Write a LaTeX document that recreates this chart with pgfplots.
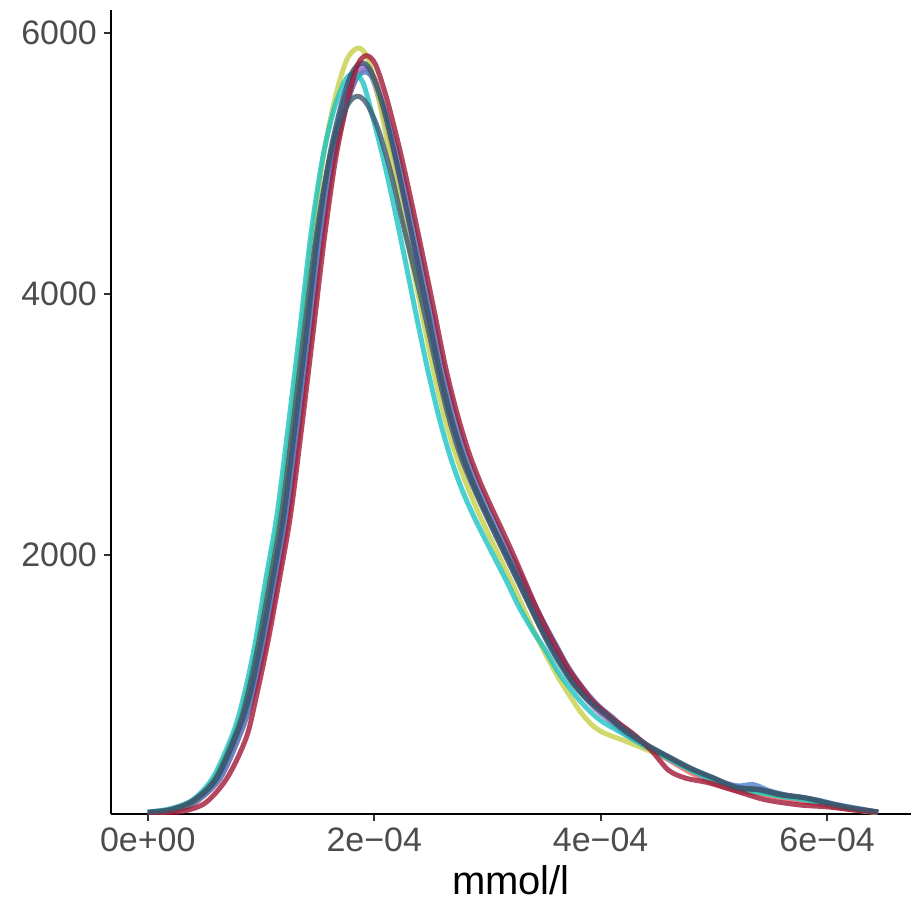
\documentclass[border=0pt]{standalone}
\usepackage{pgfplots}
\pgfplotsset{compat=1.18}
\usepackage{fontspec}
\setmainfont{Liberation Sans}
\definecolor{cYellow}{RGB}{198,208,72}
\definecolor{cCrimson}{RGB}{160,25,55}
\definecolor{cDark}{RGB}{50,80,105}
\definecolor{cSlate}{RGB}{60,90,112}
\definecolor{cCyan}{RGB}{28,195,195}
\definecolor{cBlue}{RGB}{80,130,200}
\definecolor{cViolet}{RGB}{140,125,240}
\definecolor{cSalmon}{RGB}{245,95,95}
\begin{document}
\begin{tikzpicture}
\begin{axis}[
 width=400.5pt, height=402.5pt, scale only axis,
 xmin=-3.26e-5, xmax=6.74e-4, ymin=15, ymax=6176,
 axis x line*=bottom, axis y line*=left,
 axis line style={line width=1.1pt, black},
 xtick={0,2e-4,4e-4,6e-4}, xticklabels={0e+00,2e−04,4e−04,6e−04},
 ytick={2000,4000,6000}, yticklabels={2000,4000,6000},
 scaled x ticks=false, scaled y ticks=false,
 tick align=outside, major tick length=3.5pt,
 tick style={line width=0.9pt, color=black!80},
 ticklabel style={font=\fontsize{17}{17}\selectfont, text=black!70},
 /pgf/number format/assume math mode=true,
 xlabel={mmol/l}, xlabel style={font=\fontsize{20}{20}\selectfont, text=black},
 every axis plot/.append style={line width=2.5pt, opacity=0.8, smooth, no markers, line join=round},
]
% salmon
\addplot[color=cSalmon] coordinates {(0,20)(0.2e-4,35)(0.4e-4,90)(0.64e-4,290)(0.84e-4,680)(0.94e-4,960)(1.04e-4,1330)(1.14e-4,1800)(1.24e-4,2300)(1.34e-4,2980)(1.44e-4,3700)(1.54e-4,4440)(1.64e-4,5020)(1.74e-4,5400)(1.84e-4,5650)(1.92e-4,5720)(2.00e-4,5660)(2.09e-4,5420)(2.18e-4,5090)(2.28e-4,4700)(2.38e-4,4290)(2.48e-4,3870)(2.58e-4,3440)(2.68e-4,3080)(2.78e-4,2790)(2.88e-4,2550)(2.98e-4,2350)(3.08e-4,2170)(3.18e-4,1990)(3.28e-4,1810)(3.38e-4,1620)(3.48e-4,1440)(3.58e-4,1280)(3.68e-4,1130)(3.78e-4,1000)(3.88e-4,890)(3.98e-4,800)(4.08e-4,730)(4.2e-4,640)(4.4e-4,530)(4.6e-4,430)(4.8e-4,330)(5.0e-4,250)(5.2e-4,195)(5.4e-4,170)(5.6e-4,140)(5.8e-4,110)(6.0e-4,80)(6.2e-4,50)(6.45e-4,25)};
% violet
\addplot[color=cViolet] coordinates {(0,25)(0.2e-4,40)(0.4e-4,100)(0.62e-4,290)(0.82e-4,680)(0.92e-4,960)(1.01e-4,1330)(1.11e-4,1800)(1.21e-4,2300)(1.31e-4,2980)(1.41e-4,3700)(1.51e-4,4440)(1.61e-4,5020)(1.71e-4,5410)(1.81e-4,5670)(1.89e-4,5740)(1.97e-4,5680)(2.06e-4,5440)(2.16e-4,5100)(2.26e-4,4710)(2.36e-4,4300)(2.46e-4,3880)(2.56e-4,3450)(2.66e-4,3090)(2.76e-4,2800)(2.86e-4,2560)(2.96e-4,2365)(3.06e-4,2180)(3.16e-4,2000)(3.26e-4,1820)(3.36e-4,1640)(3.46e-4,1460)(3.56e-4,1300)(3.66e-4,1150)(3.76e-4,1020)(3.86e-4,910)(3.96e-4,820)(4.06e-4,750)(4.2e-4,650)(4.4e-4,540)(4.6e-4,440)(4.8e-4,350)(5.0e-4,280)(5.2e-4,230)(5.4e-4,185)(5.6e-4,150)(5.8e-4,130)(6.0e-4,95)(6.2e-4,60)(6.45e-4,30)};
% blue
\addplot[color=cBlue] coordinates {(0,25)(0.2e-4,40)(0.4e-4,95)(0.64e-4,290)(0.84e-4,680)(0.94e-4,960)(1.03e-4,1330)(1.13e-4,1800)(1.23e-4,2300)(1.33e-4,2980)(1.43e-4,3700)(1.53e-4,4430)(1.63e-4,5000)(1.73e-4,5380)(1.83e-4,5630)(1.91e-4,5700)(1.99e-4,5650)(2.09e-4,5420)(2.20e-4,5100)(2.30e-4,4720)(2.40e-4,4310)(2.50e-4,3890)(2.60e-4,3470)(2.70e-4,3110)(2.80e-4,2810)(2.90e-4,2570)(3.00e-4,2375)(3.10e-4,2190)(3.20e-4,2010)(3.30e-4,1830)(3.40e-4,1650)(3.50e-4,1480)(3.60e-4,1320)(3.70e-4,1160)(3.80e-4,1030)(3.90e-4,920)(4.00e-4,830)(4.10e-4,760)(4.2e-4,680)(4.4e-4,550)(4.6e-4,440)(4.8e-4,350)(5.0e-4,270)(5.2e-4,230)(5.35e-4,240)(5.5e-4,190)(5.7e-4,150)(5.9e-4,125)(6.1e-4,85)(6.45e-4,30)};
% yellow
\addplot[color=cYellow] coordinates {(0,25)(0.2e-4,45)(0.4e-4,110)(0.59e-4,290)(0.79e-4,680)(0.88e-4,960)(0.97e-4,1330)(1.06e-4,1800)(1.16e-4,2300)(1.26e-4,2980)(1.36e-4,3720)(1.46e-4,4480)(1.56e-4,5100)(1.66e-4,5520)(1.76e-4,5800)(1.86e-4,5885)(1.94e-4,5810)(2.03e-4,5540)(2.12e-4,5150)(2.22e-4,4720)(2.32e-4,4290)(2.42e-4,3860)(2.52e-4,3430)(2.62e-4,3060)(2.72e-4,2770)(2.82e-4,2530)(2.92e-4,2325)(3.02e-4,2140)(3.12e-4,1960)(3.22e-4,1780)(3.32e-4,1590)(3.42e-4,1400)(3.52e-4,1230)(3.62e-4,1070)(3.72e-4,930)(3.82e-4,800)(3.92e-4,700)(4.02e-4,640)(4.2e-4,580)(4.4e-4,510)(4.6e-4,440)(4.8e-4,350)(5.0e-4,280)(5.2e-4,210)(5.4e-4,180)(5.6e-4,150)(5.8e-4,130)(6.0e-4,95)(6.2e-4,55)(6.45e-4,25)};
% cyan
\addplot[color=cCyan] coordinates {(0,30)(0.2e-4,55)(0.4e-4,125)(0.58e-4,300)(0.76e-4,650)(0.86e-4,960)(0.95e-4,1330)(1.04e-4,1800)(1.14e-4,2300)(1.24e-4,2980)(1.34e-4,3700)(1.44e-4,4450)(1.54e-4,5020)(1.64e-4,5400)(1.74e-4,5630)(1.82e-4,5690)(1.90e-4,5620)(1.98e-4,5380)(2.08e-4,5040)(2.18e-4,4650)(2.28e-4,4230)(2.38e-4,3800)(2.48e-4,3390)(2.58e-4,3030)(2.68e-4,2730)(2.78e-4,2490)(2.88e-4,2295)(2.98e-4,2120)(3.08e-4,1950)(3.18e-4,1780)(3.28e-4,1600)(3.40e-4,1420)(3.52e-4,1260)(3.62e-4,1110)(3.72e-4,990)(3.82e-4,880)(3.92e-4,790)(4.02e-4,720)(4.2e-4,630)(4.4e-4,530)(4.6e-4,440)(4.8e-4,350)(5.0e-4,275)(5.2e-4,210)(5.4e-4,180)(5.6e-4,150)(5.8e-4,125)(6.0e-4,90)(6.2e-4,60)(6.45e-4,30)};
% dark
\addplot[color=cDark] coordinates {(0,25)(0.2e-4,45)(0.4e-4,110)(0.61e-4,290)(0.81e-4,680)(0.91e-4,960)(1.0e-4,1330)(1.1e-4,1800)(1.2e-4,2300)(1.3e-4,2980)(1.4e-4,3700)(1.5e-4,4450)(1.6e-4,5030)(1.7e-4,5420)(1.8e-4,5690)(1.89e-4,5770)(1.97e-4,5710)(2.07e-4,5460)(2.17e-4,5110)(2.27e-4,4710)(2.37e-4,4290)(2.47e-4,3870)(2.57e-4,3440)(2.67e-4,3080)(2.77e-4,2790)(2.87e-4,2560)(2.97e-4,2365)(3.07e-4,2180)(3.17e-4,2000)(3.27e-4,1820)(3.37e-4,1630)(3.47e-4,1450)(3.57e-4,1290)(3.67e-4,1140)(3.77e-4,1010)(3.87e-4,910)(3.97e-4,830)(4.07e-4,760)(4.2e-4,660)(4.4e-4,545)(4.6e-4,450)(4.8e-4,360)(5.0e-4,290)(5.2e-4,215)(5.4e-4,200)(5.6e-4,160)(5.8e-4,140)(6.0e-4,100)(6.2e-4,60)(6.45e-4,30)};
% crimson
\addplot[color=cCrimson] coordinates {(0,15)(0.25e-4,25)(0.5e-4,95)(0.7e-4,290)(0.87e-4,600)(0.96e-4,920)(1.06e-4,1330)(1.16e-4,1800)(1.26e-4,2300)(1.36e-4,2980)(1.46e-4,3700)(1.56e-4,4430)(1.66e-4,5040)(1.76e-4,5460)(1.85e-4,5750)(1.93e-4,5826)(2.01e-4,5760)(2.11e-4,5500)(2.23e-4,5090)(2.33e-4,4700)(2.43e-4,4290)(2.53e-4,3870)(2.63e-4,3440)(2.73e-4,3090)(2.83e-4,2800)(2.93e-4,2570)(3.03e-4,2375)(3.13e-4,2190)(3.23e-4,2000)(3.33e-4,1800)(3.43e-4,1600)(3.53e-4,1420)(3.63e-4,1260)(3.73e-4,1110)(3.83e-4,990)(3.93e-4,880)(4.03e-4,800)(4.13e-4,730)(4.3e-4,620)(4.45e-4,500)(4.6e-4,350)(4.75e-4,290)(4.95e-4,255)(5.2e-4,190)(5.45e-4,125)(5.75e-4,85)(6.0e-4,70)(6.2e-4,50)(6.45e-4,28)};
% slate
\addplot[color=cSlate] coordinates {(0,30)(0.2e-4,50)(0.4e-4,120)(0.6e-4,290)(0.8e-4,680)(0.89e-4,960)(0.98e-4,1330)(1.08e-4,1800)(1.18e-4,2300)(1.28e-4,2980)(1.38e-4,3700)(1.48e-4,4400)(1.58e-4,4930)(1.68e-4,5280)(1.78e-4,5470)(1.86e-4,5515)(1.94e-4,5450)(2.04e-4,5250)(2.15e-4,4920)(2.25e-4,4550)(2.35e-4,4200)(2.45e-4,3830)(2.55e-4,3440)(2.65e-4,3080)(2.75e-4,2790)(2.85e-4,2570)(2.95e-4,2375)(3.05e-4,2190)(3.15e-4,2010)(3.25e-4,1830)(3.35e-4,1650)(3.45e-4,1470)(3.55e-4,1300)(3.65e-4,1150)(3.75e-4,1020)(3.85e-4,920)(3.95e-4,840)(4.05e-4,770)(4.2e-4,670)(4.4e-4,550)(4.6e-4,455)(4.8e-4,365)(5.0e-4,290)(5.2e-4,220)(5.4e-4,205)(5.6e-4,165)(5.8e-4,140)(6.0e-4,100)(6.2e-4,65)(6.45e-4,30)};
\end{axis}
\path ([xshift=-55.5pt,yshift=-48.5pt]current axis.south west) rectangle ([yshift=5pt]current axis.north east);
\end{tikzpicture}
\end{document}
